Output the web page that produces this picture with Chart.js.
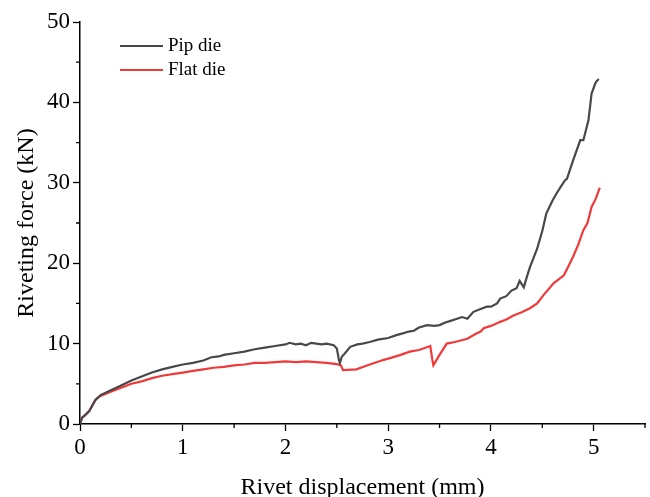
<!DOCTYPE html>
<html>
<head>
<meta charset="utf-8">
<script src="https://cdn.jsdelivr.net/npm/chart.js@4.4.1/dist/chart.umd.min.js"></script>
<style>
html,body{margin:0;padding:0;background:#fff;}
#wrap{width:650px;height:497px;position:relative;}
</style>
</head>
<body>
<div id="wrap"><canvas id="c" width="650" height="497"></canvas></div>
<script>
const seriesNames = ['Pip die', 'Flat die'];
const seriesColors = ['#484848', '#f03a3a'];

const pipX = [0,0.02,0.05,0.09,0.12,0.15,0.2,0.3,0.4,0.5,0.6,0.7,0.8,0.9,1.0,1.1,1.2,1.28,1.35,1.4,1.5,1.6,1.7,1.8,1.9,2.0,2.04,2.1,2.15,2.2,2.25,2.3,2.35,2.4,2.47,2.5,2.52,2.53,2.55,2.58,2.63,2.7,2.75,2.82,2.9,3.0,3.08,3.15,3.2,3.25,3.3,3.38,3.45,3.5,3.55,3.6,3.67,3.72,3.77,3.83,3.9,3.96,4.0,4.06,4.09,4.15,4.2,4.25,4.28,4.32,4.35,4.38,4.45,4.5,4.54,4.6,4.64,4.67,4.72,4.74,4.8,4.87,4.9,4.95,4.98,5.02,5.05];
const pipY = [0,0.8,1.1,1.6,2.3,3.0,3.6,4.2,4.8,5.4,5.9,6.4,6.8,7.1,7.4,7.6,7.9,8.3,8.4,8.6,8.8,9.0,9.3,9.5,9.7,9.9,10.1,9.9,10.0,9.8,10.1,10.0,9.9,10.0,9.8,9.4,8.0,7.6,8.4,8.8,9.6,9.9,10.0,10.2,10.5,10.7,11.05,11.3,11.5,11.6,12.0,12.3,12.2,12.3,12.6,12.8,13.1,13.3,13.1,13.95,14.3,14.6,14.6,15.0,15.6,15.9,16.6,16.9,17.8,17.0,18.3,19.5,21.8,24.0,26.2,27.8,28.7,29.3,30.3,30.5,32.8,35.3,35.3,37.8,41.1,42.5,42.9];

const flatX = [0,0.02,0.05,0.09,0.12,0.15,0.2,0.3,0.4,0.5,0.6,0.7,0.8,0.9,1.0,1.1,1.2,1.3,1.4,1.5,1.6,1.7,1.8,1.9,2.0,2.1,2.2,2.3,2.4,2.5,2.54,2.56,2.69,2.8,2.95,3.1,3.21,3.3,3.39,3.41,3.43,3.44,3.5,3.57,3.65,3.77,3.85,3.9,3.93,4.0,4.07,4.09,4.15,4.22,4.3,4.38,4.45,4.51,4.61,4.71,4.75,4.8,4.85,4.9,4.94,4.98,5.02,5.06];
const flatY = [0,0.8,1.1,1.6,2.3,3.0,3.5,4.0,4.5,5.0,5.3,5.7,6.0,6.2,6.4,6.6,6.8,7.0,7.1,7.3,7.4,7.6,7.6,7.7,7.8,7.7,7.8,7.7,7.6,7.45,7.3,6.7,6.8,7.3,7.95,8.5,9.0,9.2,9.6,9.7,8.0,7.3,8.6,10.0,10.2,10.6,11.2,11.5,11.9,12.2,12.6,12.7,13.0,13.5,13.9,14.4,15.0,16.0,17.5,18.5,19.5,20.8,22.3,24.1,25.0,27.0,28.0,29.4];

const xTicks = [0,1,2,3,4,5];
const yTicks = [0,10,20,30,40,50];
const xMinorTicks = [0.5,1.5,2.5,3.5,4.5,5.5];
const yMinorTicks = [5,15,25,35,45];

function pts(xs, ys){ return xs.map((x,i)=>({x:x, y:ys[i]})); }

Chart.defaults.font.family = "'Liberation Serif', 'Times New Roman', serif";
Chart.defaults.color = '#000';

const minorTickPlugin = {
  id: 'minorTicks',
  afterDraw(chart){
    const ctx = chart.ctx;
    const xs = chart.scales.x, ys = chart.scales.y;
    ctx.save();
    ctx.strokeStyle = '#000';
    ctx.lineWidth = 1.3;
    ctx.beginPath();
    xMinorTicks.forEach(v=>{
      const p = xs.getPixelForValue(v);
      ctx.moveTo(p, xs.top); ctx.lineTo(p, xs.top + 4);
    });
    yMinorTicks.forEach(v=>{
      const p = ys.getPixelForValue(v);
      ctx.moveTo(ys.right, p); ctx.lineTo(ys.right - 4, p);
    });
    ctx.stroke();
    ctx.restore();
  }
};

const legendPlugin = {
  id: 'customLegend',
  afterDraw(chart){
    const ctx = chart.ctx;
    const a = chart.chartArea;
    ctx.save();
    ctx.font = "19px 'Liberation Serif', 'Times New Roman', serif";
    ctx.textBaseline = 'middle';
    chart.data.datasets.forEach((ds,i)=>{
      const y = a.top + 24 + i*24;
      const x0 = a.left + 40;
      ctx.strokeStyle = ds.borderColor;
      ctx.lineWidth = 2.2;
      ctx.beginPath(); ctx.moveTo(x0, y); ctx.lineTo(x0 + 43, y); ctx.stroke();
      ctx.fillStyle = '#000';
      ctx.fillText(ds.label, x0 + 48, y);
    });
    ctx.restore();
  }
};

new Chart(document.getElementById('c'), {
  type: 'scatter',
  data: {
    datasets: [
      {label: seriesNames[0], data: pts(pipX, pipY), borderColor: seriesColors[0], backgroundColor: seriesColors[0], showLine: true, pointRadius: 0, borderWidth: 2.2, tension: 0},
      {label: seriesNames[1], data: pts(flatX, flatY), borderColor: seriesColors[1], backgroundColor: seriesColors[1], showLine: true, pointRadius: 0, borderWidth: 2.2, tension: 0}
    ]
  },
  options: {
    responsive: false,
    animation: false,
    layout: {padding: {top: 22, right: 5, left: 0, bottom: 0}},
    plugins: {legend: {display: false}, tooltip: {enabled: false}},
    scales: {
      x: {
        type: 'linear', min: 0, max: 5.5,
        afterBuildTicks(s){ s.ticks = xTicks.map(v=>({value:v})); },
        afterFit(s){ s.height = 73; },
        grid: {display: true, drawOnChartArea: false, drawTicks: true, tickLength: 7, tickColor: '#000', tickWidth: 1.3},
        border: {display: true, color: '#000', width: 1.5},
        ticks: {font: {size: 23}, color: '#000', padding: 3, maxRotation: 0},
        title: {display: true, text: 'Rivet displacement (mm)', font: {size: 24}, color: '#000', padding: {top: 0, bottom: -5}}
      },
      y: {
        type: 'linear', min: 0, max: 50,
        afterBuildTicks(s){ s.ticks = yTicks.map(v=>({value:v})); },
        afterFit(s){ s.width = 80; },
        grid: {display: true, drawOnChartArea: false, drawTicks: true, tickLength: 7, tickColor: '#000', tickWidth: 1.3},
        border: {display: true, color: '#000', width: 1.5},
        ticks: {font: {size: 23}, color: '#000', padding: 3},
        title: {display: true, text: 'Riveting force (kN)', font: {size: 24}, color: '#000', padding: {top: 12, bottom: 0}}
      }
    }
  },
  plugins: [minorTickPlugin, legendPlugin]
});
</script>
</body>
</html>
